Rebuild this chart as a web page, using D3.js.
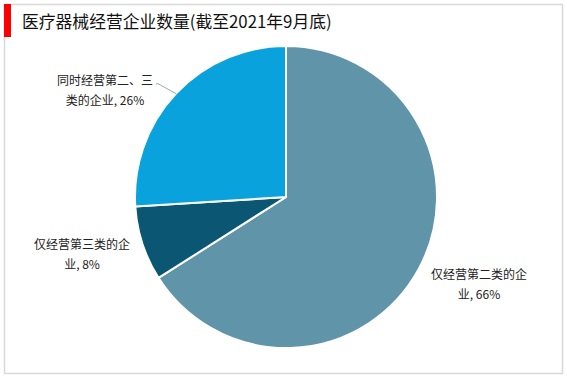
<!DOCTYPE html>
<html>
<head>
<meta charset="utf-8">
<script src="https://cdn.jsdelivr.net/npm/d3@7"></script>
<style>
	body { margin: 0; background: #fff; }
	svg { display: block; font-family: "Noto Sans CJK SC", "Microsoft YaHei", sans-serif; }
</style>
</head>
<body>
<div id="chart"></div>
<script>
// Data
var TITLE = '医疗器械经营企业数量(截至2021年9月底)';
var CATEGORIES = ['仅经营第二类的企业', '仅经营第三类的企业', '同时经营第二、三类的企业'];
var VALUES = [66, 8, 26];
var LABEL_LINES = [
	['仅经营第二类的企', '业, 66%'],
	['仅经营第三类的企', '业, 8%'],
	['同时经营第二、三', '类的企业, 26%']
];
var COLORS = ['#5f94a9', '#0b5672', '#0aa2dc'];

var width = 567;
var height = 378;

var svg = d3.select('#chart')
	.append('svg')
	.attr('width', width)
	.attr('height', height);

/*
 * Frame + title
 */
svg.append('rect')
	.attr('x', 4.5)
	.attr('y', 4.5)
	.attr('width', 558)
	.attr('height', 369)
	.attr('fill', 'none')
	.attr('stroke', '#d9d9d9')
	.attr('stroke-width', 1.5);

svg.append('rect')
	.attr('x', 4)
	.attr('y', 4)
	.attr('width', 7)
	.attr('height', 33)
	.attr('fill', '#ff0000');

svg.append('text')
	.attr('x', 22)
	.attr('y', 28)
	.attr('font-size', 16.8)
	.attr('fill', '#111')
	.text(TITLE);

/*
 * Pie
 */
var cx = 286;
var cy = 197;
var radius = 151;

var pie = d3.pie()
	.sort(null)
	.value(function(d) { return d; });

var arc = d3.arc()
	.innerRadius(0)
	.outerRadius(radius);

var arcs = pie(VALUES);

var g = svg.append('g')
	.attr('transform', 'translate(' + cx + ',' + cy + ')');

g.selectAll('path')
	.data(arcs)
	.enter()
	.append('path')
	.attr('d', arc)
	.attr('fill', function(d, i) { return COLORS[i]; })
	.attr('stroke', '#fff')
	.attr('stroke-width', 2);

/*
 * Labels
 */
// label centres relative to the pie centre
var labelPos = [
	[193, 82],
	[-204, 52],
	[-181, -112]
];

labelPos.forEach(function(p, i) {
	var t = g.append('text')
		.attr('text-anchor', 'middle')
		.attr('font-size', 12)
		.attr('fill', '#222');
	LABEL_LINES[i].forEach(function(line, j) {
		t.append('tspan')
			.attr('x', p[0])
			.attr('y', p[1] + j * 20)
			.text(line);
	});
});

// leader line for the 26% slice
var a = (arcs[2].startAngle + arcs[2].endAngle) / 2;
var edge = [Math.sin(a) * radius, -Math.cos(a) * radius];
g.append('polyline')
	.attr('points', [edge, [edge[0] - 18, edge[1] - 10], [-130, -113]].map(function(p) { return p.join(','); }).join(' '))
	.attr('fill', 'none')
	.attr('stroke', '#a6a6a6')
	.attr('stroke-width', 1);
</script>
</body>
</html>
